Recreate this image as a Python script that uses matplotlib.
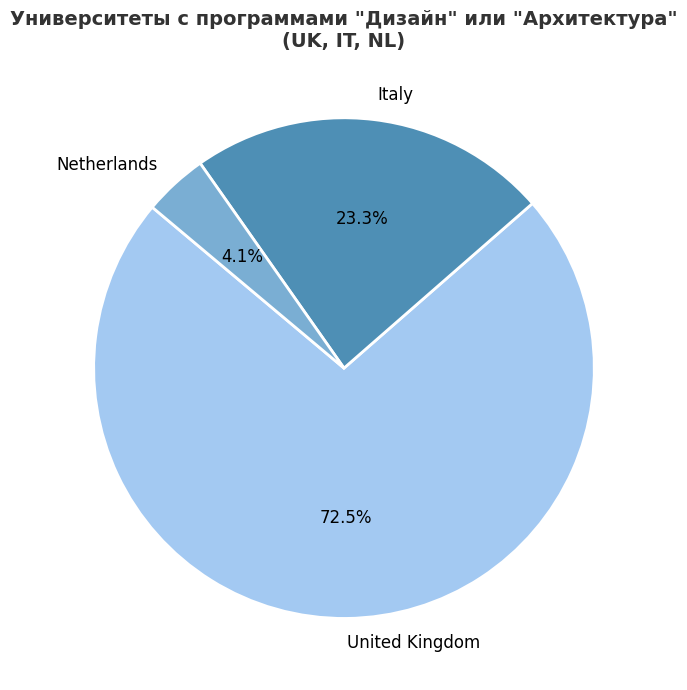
import matplotlib
matplotlib.use('Agg')
from matplotlib import pyplot as plt

countries = ['United Kingdom', 'Italy', 'Netherlands']
counts = [140, 45, 8]
colors = ['#a3c9f2', '#4e8fb5', '#7aaed3']

fig = plt.figure(figsize=(6.87, 6.9), dpi=100)
ax = fig.add_axes([0.0452, 0.013, 0.911, 0.907])

ax.pie(counts, labels=countries, colors=colors, autopct='%1.1f%%',
       startangle=140, wedgeprops={'edgecolor': 'white', 'linewidth': 2},
       textprops={'fontsize': 12})
ax.set_aspect('equal')

fig.suptitle('Университеты с программами "Дизайн" или "Архитектура"\n(UK, IT, NL)',
             fontsize=14, fontweight='bold', color='#333333', y=0.986)

fig.savefig('out.png', dpi=100)
